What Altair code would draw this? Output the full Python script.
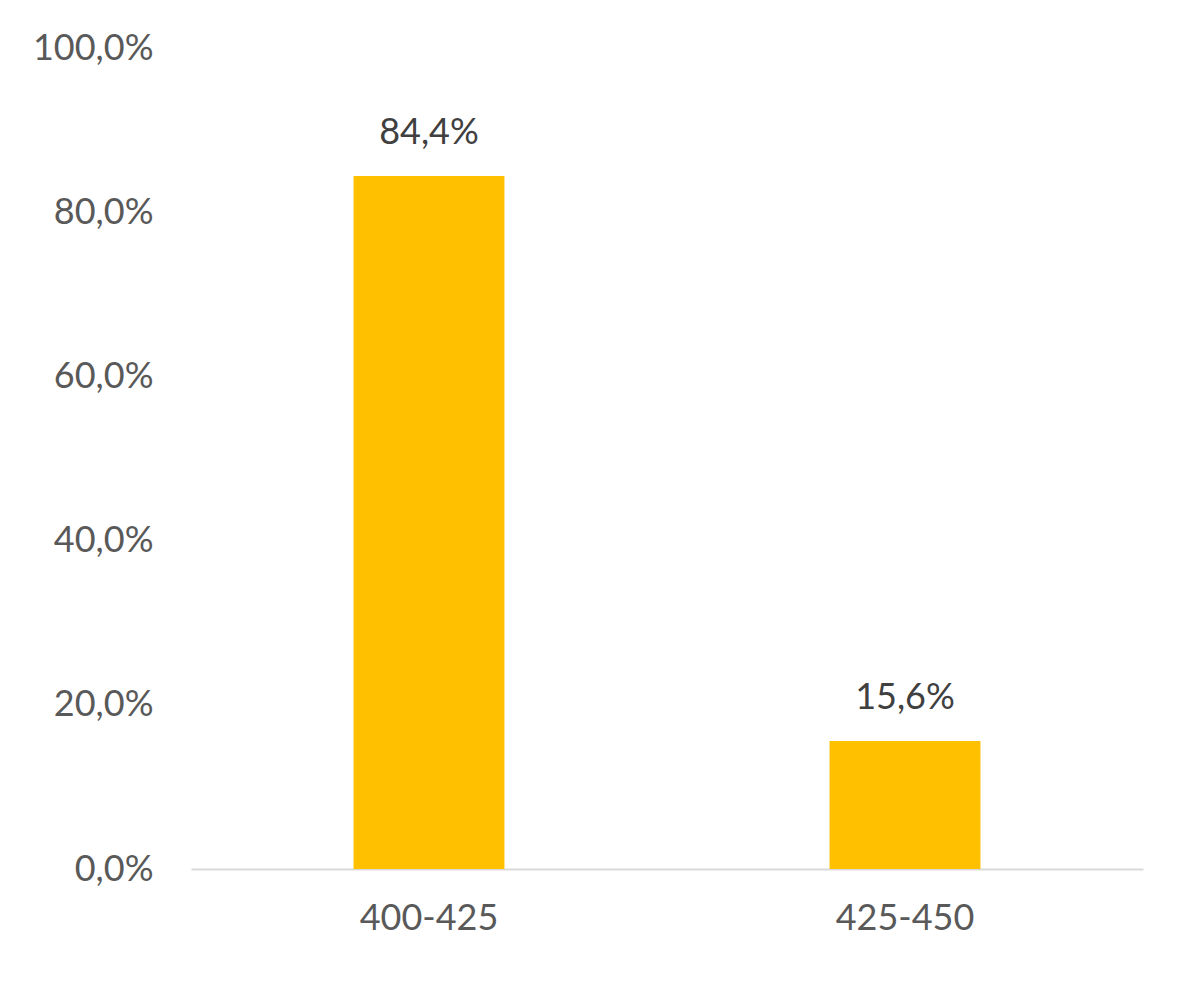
import altair as alt
import pandas as pd

categories = ["400-425", "425-450"]
values = [84.4, 15.6]
labels = ["84,4%", "15,6%"]

df = pd.DataFrame({"cat": categories, "val": values, "lab": labels})

FONT = "Lato"

x = alt.X("cat:N", sort=categories, title=None,
          scale=alt.Scale(paddingInner=0.683, paddingOuter=0.3415),
          axis=alt.Axis(labelAngle=0, labelFont=FONT, labelFontSize=36,
                        labelColor="#595959", ticks=False, domainColor="#D9D9D9",
                        domainWidth=2, labelPadding=32))
y = alt.Y("val:Q", title=None,
          scale=alt.Scale(domain=[0, 100]),
          axis=alt.Axis(values=[0, 20, 40, 60, 80, 100],
                        labelExpr="replace(format(datum.value, '.1f'), '.', ',') + '%'",
                        labelFont=FONT, labelFontSize=36, labelColor="#595959",
                        ticks=False, domain=False, grid=False, labelPadding=38))

bars = alt.Chart(df).mark_bar(color="#FFC000").encode(x=x, y=y)
text = alt.Chart(df).mark_text(font=FONT, fontSize=36, color="#404040",
                               baseline="alphabetic", dy=-32).encode(
    x=alt.X("cat:N", sort=categories), y="val:Q", text="lab:N")

chart = (bars + text).properties(
    width=952, height=821,
    autosize=alt.AutoSizeParams(type="none"),
    padding={"left": 183, "top": 40, "right": 40, "bottom": 100},
).configure_view(stroke=None).configure_axis(grid=False)

chart.save("out.html", embed_options={"renderer": "svg", "actions": False})
